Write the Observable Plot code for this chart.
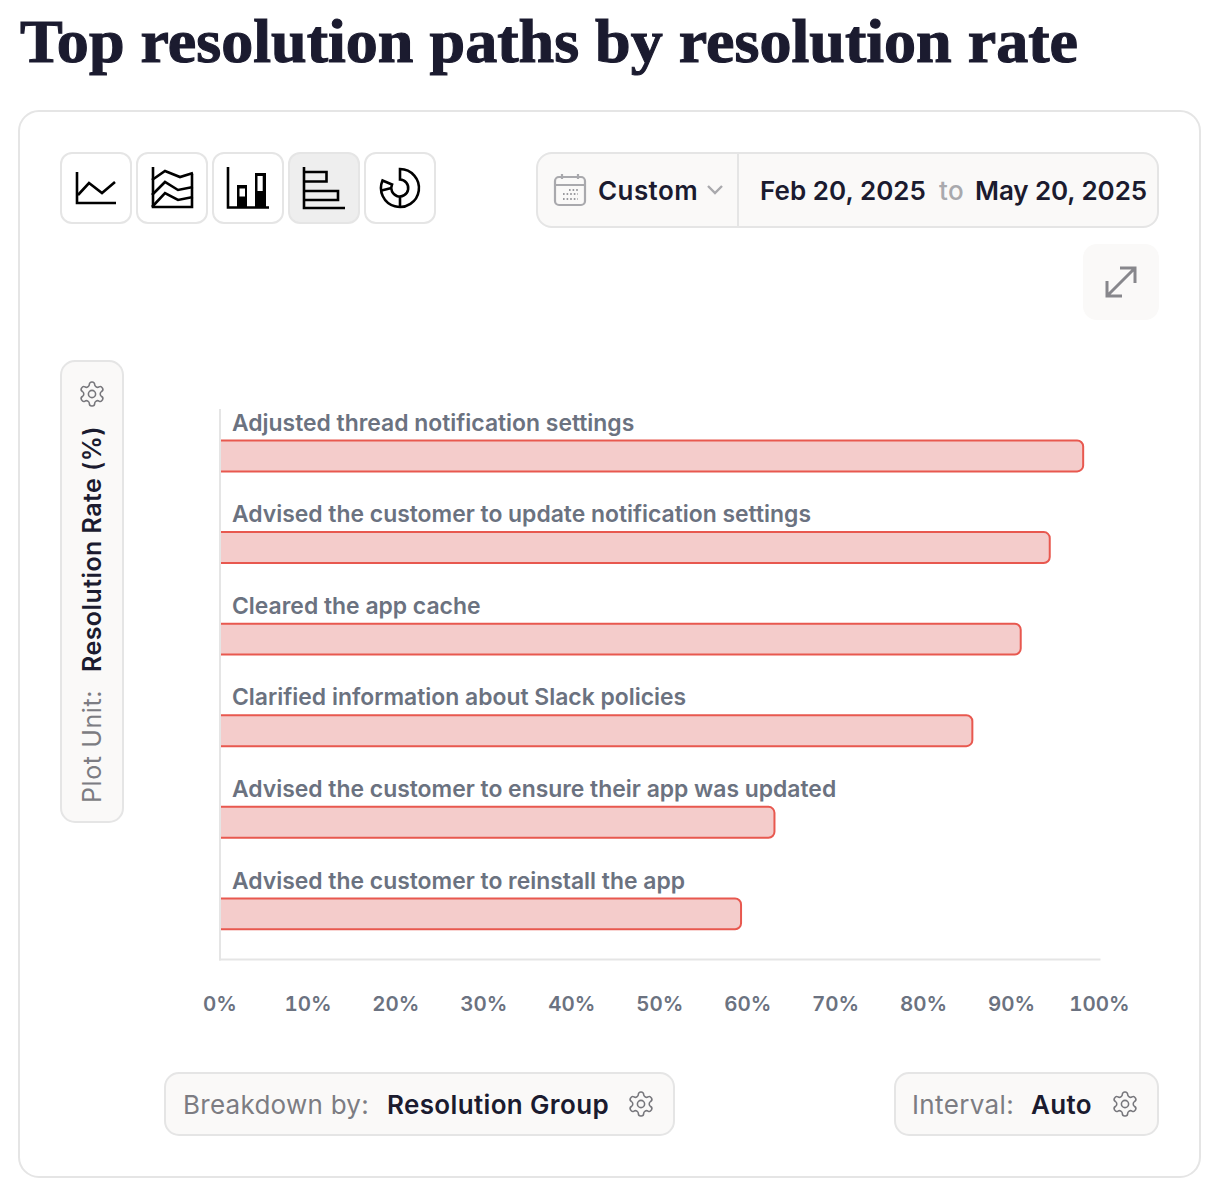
<!DOCTYPE html>
<html>
<head>
<meta charset="utf-8">
<style>
html,body{margin:0;padding:0;background:#fff;width:1218px;height:1200px;overflow:hidden}
#stage{position:relative;width:1218px;height:1200px}
#stage svg{position:absolute}
#chrome{left:0;top:0}
#plot{position:absolute;left:0;top:380px}
#plot svg{position:static;display:block;overflow:visible}
</style>
<script src="https://cdn.jsdelivr.net/npm/d3@7"></script>
<script src="https://cdn.jsdelivr.net/npm/@observablehq/plot@0.6"></script>
</head>
<body>
<div id="stage">
<svg id="chrome" width="1218" height="1200" viewBox="0 0 1218 1200"></svg>
<div id="plot"></div>
</div>
<script>
const resolutionPaths = [
  "Adjusted thread notification settings",
  "Advised the customer to update notification settings",
  "Cleared the app cache",
  "Clarified information about Slack policies",
  "Advised the customer to ensure their app was updated",
  "Advised the customer to reinstall the app"
];
const resolutionRates = [98.2, 94.4, 91.1, 85.6, 63.1, 59.3];
const xTicks = [0, 10, 20, 30, 40, 50, 60, 70, 80, 90, 100];

const SANS = "Inter, 'Noto Sans', sans-serif";
const rows = resolutionPaths.map((path, i) => ({path, rate: resolutionRates[i]}));

const chart = Plot.plot({
  width: 1218, height: 660,
  marginLeft: 219.5, marginRight: 119, marginTop: 29.5, marginBottom: 81,
  style: {fontFamily: SANS, background: "transparent"},
  x: {domain: [0, 100], ticks: xTicks, tickFormat: d => d + "%", label: null},
  y: {domain: resolutionPaths, padding: 0, round: false, label: null, axis: null},
  marks: [
    Plot.barX(rows, {
      x1: -2, x2: "rate", y: "path",
      insetTop: 31, insetBottom: 29.67, rx: 6,
      fill: "#f4cccb", stroke: "#e8584f", strokeWidth: 2, clip: "frame"
    }),
    Plot.frame({anchor: "left", stroke: "#e5e5e5", strokeWidth: 2}),
    Plot.frame({anchor: "bottom", stroke: "#e5e5e5", strokeWidth: 2}),
    Plot.text(rows, {
      x: () => 0, y: "path", text: "path", textAnchor: "start",
      dx: 12, dy: -32.5, fill: "#6b7280", fontSize: 22.9, fontWeight: 600
    }),
    Plot.axisX({
      ticks: xTicks, tickFormat: d => d + "%", tickSize: 0, tickPadding: 37,
      fontSize: 20.5, fontWeight: 600, fill: "#6b7280", label: null, stroke: "none"
    })
  ]
});
document.getElementById("plot").append(chart);

// ---------- interface chrome around the chart ----------
const NS = "http://www.w3.org/2000/svg";
const root = document.getElementById("chrome");
function el(tag, attrs, parent) {
  const n = document.createElementNS(NS, tag);
  for (const k in attrs) n.setAttribute(k, attrs[k]);
  (parent || root).append(n);
  return n;
}
function box(x, y, w, h, r, fill, stroke) {
  return el("rect", {x: x + 1, y: y + 1, width: w - 2, height: h - 2, rx: r, fill, stroke: stroke || "none", "stroke-width": 2});
}
function label(str, x, y, w, size, weight, color, family, rot) {
  const t = el("text", {x, y, "font-size": size, "font-weight": weight, fill: color, "font-family": family || SANS});
  t.textContent = str;
  const natural = t.getComputedTextLength();
  t.setAttribute("letter-spacing", (w - natural) / str.length);
  if (rot) t.setAttribute("transform", `rotate(${rot} ${x} ${y})`);
  return t;
}
const GEAR = "M12.22 2h-.44a2 2 0 0 0-2 2v.18a2 2 0 0 1-1 1.73l-.43.25a2 2 0 0 1-2 0l-.15-.08a2 2 0 0 0-2.73.73l-.22.38a2 2 0 0 0 .73 2.73l.15.1a2 2 0 0 1 1 1.72v.51a2 2 0 0 1-1 1.74l-.15.09a2 2 0 0 0-.73 2.73l.22.38a2 2 0 0 0 2.73.73l.15-.08a2 2 0 0 1 2 0l.43.25a2 2 0 0 1 1 1.73V20a2 2 0 0 0 2 2h.44a2 2 0 0 0 2-2v-.18a2 2 0 0 1 1-1.73l.43-.25a2 2 0 0 1 2 0l.15.08a2 2 0 0 0 2.73-.73l.22-.39a2 2 0 0 0-.73-2.73l-.15-.08a2 2 0 0 1-1-1.74v-.5a2 2 0 0 1 1-1.74l.15-.09a2 2 0 0 0 .73-2.73l-.22-.38a2 2 0 0 0-2.73-.73l-.15.08a2 2 0 0 1-2 0l-.43-.25a2 2 0 0 1-1-1.73V4a2 2 0 0 0-2-2z";
function gear(cx, cy) {
  const g = el("g", {transform: `translate(${cx - 14.4} ${cy - 14.4}) scale(1.2)`, fill: "none", stroke: "#77777c", "stroke-width": 1.3});
  el("path", {d: GEAR}, g);
  el("circle", {cx: 12, cy: 12, r: 3}, g);
}

const INK = "#1b1b2f", MUTED = "#7c7c82", BORDER = "#e5e5e5", PANEL = "#faf9f8";

// title and card
const title = el("text", {
  x: 20, y: 62, "font-size": 62, "font-weight": 700, fill: INK, stroke: INK, "stroke-width": 1.1,
  "font-family": "'Liberation Serif', serif", textLength: 1058, lengthAdjust: "spacingAndGlyphs"
});
title.textContent = "Top resolution paths by resolution rate";
box(18, 110, 1183, 1068, 20, "#fff", BORDER);

// chart-type buttons
const buttonX = [60, 136, 212, 288, 364];
buttonX.forEach((x, i) => box(x, 152, 72, 72, 11, i === 3 ? "#eeeeee" : "#fff", BORDER));
const ic = (x) => el("g", {transform: `translate(${x} 152)`, fill: "none", stroke: "#000", "stroke-width": 2.6}, root);
let g = ic(60);
el("path", {d: "M17 20V51H56"}, g);
el("path", {d: "M18 43L29 31L42 41L55 30"}, g);
g = ic(136);
el("path", {d: "M17 15V55H56V22"}, g);
el("path", {d: "M16 28L29 19L44 25L57 21"}, g);
el("path", {d: "M16 43L29 30L42 38L57 35"}, g);
el("path", {d: "M16 55L29 41L42 48L57 45"}, g);
g = ic(212);
el("path", {d: "M16 15V55.5H57"}, g);
el("path", {d: "M25 33H35V56H25ZM43 21H54V56H43Z", fill: "#000", stroke: "none"}, g);
el("path", {d: "M27.5 36.5H33V44.5H27.5ZM45.5 24H50.7V39H45.5Z", fill: "#fff", stroke: "none"}, g);
g = ic(288);
el("path", {d: "M16 15V56H57"}, g);
el("path", {d: "M16 20H38.5V29.5H16M16 39H50V48H16"}, g);
g = ic(364);
el("path", {d: "M36 17A19 19 0 1 1 18.5 28.5L28 32.5A8.5 8.5 0 1 0 36 27.5Z"}, g);
el("path", {d: "M36 44.5V55M17.5 38.5L27.5 36"}, g);

// date range control
box(536, 152, 623, 76, 15, PANEL, BORDER);
el("rect", {x: 737, y: 153, width: 2, height: 74, fill: BORDER});
const cal = el("g", {fill: "none", stroke: "#a9a9ad", "stroke-width": 2.2});
el("rect", {x: 555, y: 177, width: 30, height: 28, rx: 4}, cal);
el("path", {d: "M555 185H585M562 174V179M578 174V179"}, cal);
el("path", {d: "M563 194H578M563 199H578M569 190H578", "stroke-dasharray": "1.6 2", "stroke-width": 1.8, stroke: "#9a9a9e"}, cal);
label("Custom", 598, 200, 100, 26, 600, INK);
el("path", {d: "M708 186L715 193L722 186", fill: "none", stroke: "#a9a9ad", "stroke-width": 2.4});
label("Feb 20, 2025", 760, 200, 166, 26, 600, INK);
label("to", 939, 200, 25, 26, 500, "#a9a9ad");
label("May 20, 2025", 975, 200, 172, 26, 600, INK);

// expand button
el("rect", {x: 1083, y: 244, width: 76, height: 76, rx: 14, fill: PANEL});
el("path", {d: "M1107 296L1135 268M1120 268H1135V283M1107 281V296H1122", fill: "none", stroke: "#87878c", "stroke-width": 3});

// plot unit selector
box(60, 360, 64, 463, 14, PANEL, BORDER);
gear(92, 394);
label("Plot Unit:", 101, 803, 113, 25, 400, MUTED, SANS, -90);
label("Resolution Rate (%)", 101, 672, 246, 25, 600, INK, SANS, -90);

// breakdown selector
box(164, 1072, 511, 64, 14, PANEL, BORDER);
label("Breakdown by:", 183, 1114, 186, 26, 400, MUTED);
label("Resolution Group", 387, 1114, 222, 26, 600, INK);
gear(641, 1104);

// interval selector
box(894, 1072, 265, 64, 14, PANEL, BORDER);
label("Interval:", 912, 1114, 102, 26, 400, MUTED);
label("Auto", 1031, 1114, 61, 26, 600, INK);
gear(1125, 1104);
</script>
</body>
</html>
